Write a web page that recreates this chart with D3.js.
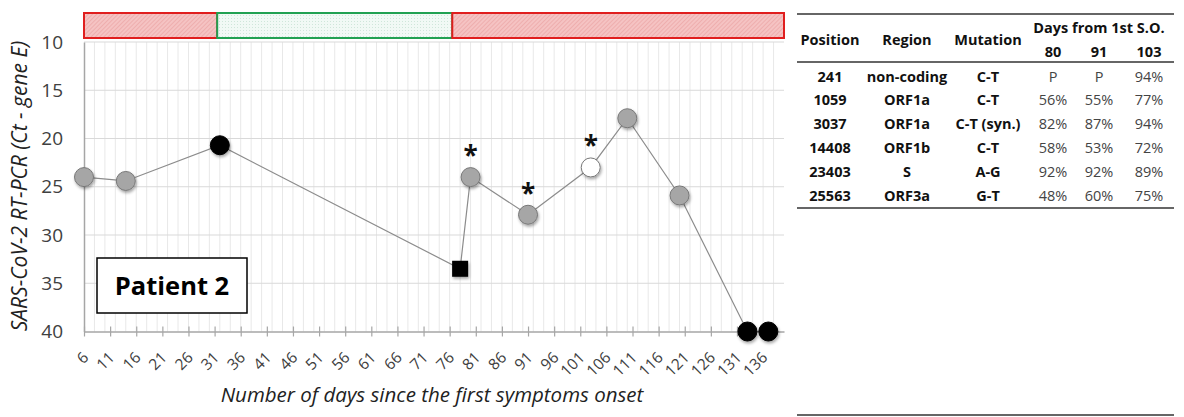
<!DOCTYPE html>
<html>
<head>
<meta charset="utf-8">
<script src="https://cdn.jsdelivr.net/npm/d3@7"></script>
<style>
  html, body { margin: 0; padding: 0; background: #fff; }
  svg { display: block; }
  text { font-family: "Open Sans", "Liberation Sans", sans-serif; }
</style>
</head>
<body>
<svg id="chart" width="1184" height="417"></svg>
<script>
// ---------- data ----------
const days   = [6, 14, 32, 78, 80, 91, 103, 110, 120, 133, 137];
const ctVals = [24, 24.4, 20.7, 33.5, 24, 27.9, 23.0, 17.9, 25.9, 40, 40];
const kinds  = ["gray", "gray", "black", "square", "gray", "gray", "white", "gray", "gray", "black", "black"];
const starred = [80, 91, 103];

const phaseStart  = [6, 31.5, 76.5];
const phaseEnd    = [31.5, 76.5, 140];
const phaseStatus = ["pos", "neg", "pos"];

const xTickValues = d3.range(6, 137, 5);
const yTickValues = [10, 15, 20, 25, 30, 35, 40];

const tableHeaders = ["Position", "Region", "Mutation"];
const dayHeaders   = ["80", "91", "103"];
const positions = ["241", "1059", "3037", "14408", "23403", "25563"];
const regions   = ["non-coding", "ORF1a", "ORF1a", "ORF1b", "S", "ORF3a"];
const mutations = ["C-T", "C-T", "C-T (syn.)", "C-T", "A-G", "G-T"];
const freq80  = ["P", "56%", "82%", "58%", "92%", "48%"];
const freq91  = ["P", "55%", "87%", "53%", "92%", "60%"];
const freq103 = ["94%", "77%", "94%", "72%", "89%", "75%"];

// ---------- setup ----------
const svg = d3.select("#chart");
const x = d3.scaleLinear().domain([6, 140]).range([84, 784]);
const y = d3.scaleLinear().domain([10, 40]).range([42, 331.5]);

const defs = svg.append("defs");
const pr = defs.append("pattern").attr("id", "hatchRed").attr("patternUnits", "userSpaceOnUse")
  .attr("width", 3).attr("height", 3).attr("patternTransform", "rotate(45)");
pr.append("rect").attr("width", 3).attr("height", 3).attr("fill", "#f5c3c3");
pr.append("line").attr("x1", 0).attr("y1", 0).attr("x2", 0).attr("y2", 3).attr("stroke", "#e79a9a").attr("stroke-width", 1);
const pg = defs.append("pattern").attr("id", "dotGreen").attr("patternUnits", "userSpaceOnUse")
  .attr("width", 3).attr("height", 3);
pg.append("rect").attr("width", 3).attr("height", 3).attr("fill", "#f1f9f5");
pg.append("rect").attr("width", 1).attr("height", 1).attr("fill", "#cfe6da");
const sh = defs.append("filter").attr("id", "shadow").attr("x", "-50%").attr("y", "-50%").attr("width", "200%").attr("height", "200%");
sh.append("feDropShadow").attr("dx", 1).attr("dy", 2).attr("stdDeviation", 1.5).attr("flood-color", "#000").attr("flood-opacity", 0.35);

// ---------- grid ----------
const grid = svg.append("g");
grid.selectAll("line.vg").data(d3.range(8, 140, 2)).join("line")
  .attr("x1", d => x(d)).attr("x2", d => x(d))
  .attr("y1", y(10)).attr("y2", y(40))
  .attr("stroke", "#e8e8e8").attr("stroke-width", 1);
grid.selectAll("line.hg").data(yTickValues.filter(v => v < 40)).join("line")
  .attr("x1", x(6)).attr("x2", x(140))
  .attr("y1", d => y(d)).attr("y2", d => y(d))
  .attr("stroke", "#d9d9d9").attr("stroke-width", 1);

// ---------- phase bar ----------
const phases = phaseStart.map((s, i) => ({ s, e: phaseEnd[i], st: phaseStatus[i] }));
svg.append("g").selectAll("rect").data(phases).join("rect")
  .attr("x", d => x(d.s)).attr("width", d => x(d.e) - x(d.s))
  .attr("y", 13).attr("height", 25)
  .attr("fill", d => d.st === "pos" ? "url(#hatchRed)" : "url(#dotGreen)")
  .attr("stroke", d => d.st === "pos" ? "#e01e1e" : "#21a152")
  .attr("stroke-width", 2);

// ---------- axes ----------
const xAxis = svg.append("g").attr("transform", `translate(0,${y(40)})`)
  .call(d3.axisBottom(x).tickValues(xTickValues).tickSize(0).tickFormat(d3.format("d")));
xAxis.select(".domain").attr("stroke", "#a6a6a6").attr("stroke-width", 1.5);
xAxis.selectAll(".tick").append("line").attr("y1", -5).attr("y2", 5).attr("stroke", "#a6a6a6").attr("stroke-width", 1.2);
xAxis.selectAll(".tick text")
  .attr("font-size", 15.5).attr("fill", "#404040")
  .attr("text-anchor", "end").attr("dy", null).attr("y", 0)
  .attr("transform", "translate(5,27) rotate(-45)");

const yAxis = svg.append("g").attr("transform", `translate(${x(6)},0)`)
  .call(d3.axisLeft(y).tickValues(yTickValues).tickSize(0).tickPadding(21));
yAxis.select(".domain").attr("stroke", "#a6a6a6").attr("stroke-width", 1.5);
yAxis.selectAll(".tick text").attr("font-size", 19).attr("fill", "#404040");

// axis titles
svg.append("text").attr("transform", "translate(27,186) rotate(-90)")
  .attr("text-anchor", "middle").attr("font-size", 21).attr("font-style", "italic").attr("fill", "#222")
  .text("SARS-CoV-2 RT-PCR (Ct - gene E)");
svg.append("text").attr("x", 432).attr("y", 402)
  .attr("text-anchor", "middle").attr("font-size", 20.5).attr("font-style", "italic").attr("fill", "#222")
  .text("Number of days since the first symptoms onset");

// ---------- series ----------
const pts = days.map((d, i) => ({ d, v: ctVals[i], k: kinds[i] }));
svg.append("path").datum(pts)
  .attr("d", d3.line().x(p => x(p.d)).y(p => y(p.v)))
  .attr("fill", "none").attr("stroke", "#8c8c8c").attr("stroke-width", 1.2);

const mk = svg.append("g").attr("filter", "url(#shadow)");
mk.selectAll("circle").data(pts.filter(p => p.k !== "square")).join("circle")
  .attr("cx", p => x(p.d)).attr("cy", p => y(p.v)).attr("r", 9.5)
  .attr("fill", p => p.k === "gray" ? "#a6a6a6" : p.k === "black" ? "#000" : "#fff")
  .attr("stroke", p => p.k === "black" ? "#000" : "#787878").attr("stroke-width", 1);
mk.selectAll("rect").data(pts.filter(p => p.k === "square")).join("rect")
  .attr("x", p => x(p.d) - 8).attr("y", p => y(p.v) - 8).attr("width", 16).attr("height", 16)
  .attr("fill", "#000");

svg.append("g").selectAll("text").data(pts.filter(p => starred.includes(p.d))).join("text")
  .attr("x", p => x(p.d)).attr("y", p => y(p.v) - 12)
  .attr("text-anchor", "middle").attr("font-size", 26).attr("font-weight", "bold").attr("fill", "#111")
  .text("*");

// ---------- patient label ----------
svg.append("rect").attr("x", 97).attr("y", 258).attr("width", 150).attr("height", 55)
  .attr("fill", "#fff").attr("stroke", "#000").attr("stroke-width", 1.5);
svg.append("text").attr("x", 172).attr("y", 295).attr("text-anchor", "middle")
  .attr("font-size", 25.5).attr("font-weight", "bold").attr("fill", "#000").text("Patient 2");

// ---------- table ----------
const tb = svg.append("g");
const colX = [830, 907, 988, 1053, 1099, 1149];
const rowY = [77, 100, 124, 148, 172, 196];
const rule = (yy, w) => tb.append("line").attr("x1", 797).attr("x2", 1174).attr("y1", yy).attr("y2", yy)
  .attr("stroke", "#333").attr("stroke-width", w);
rule(14, 1.5); rule(62, 1.5); rule(208, 1.5); rule(415, 1.5);

tb.append("text").attr("x", 1099).attr("y", 28).attr("dy", "0.35em").attr("text-anchor", "middle")
  .attr("font-size", 14.5).attr("font-weight", "bold").attr("fill", "#111").text("Days from 1st S.O.");
tb.selectAll("text.h").data(tableHeaders).join("text")
  .attr("x", (d, i) => colX[i]).attr("y", 40).attr("dy", "0.35em").attr("text-anchor", "middle")
  .attr("font-size", 14.5).attr("font-weight", "bold").attr("fill", "#111").text(d => d);
tb.selectAll("text.dh").data(dayHeaders).join("text")
  .attr("x", (d, i) => colX[3 + i]).attr("y", 52).attr("dy", "0.35em").attr("text-anchor", "middle")
  .attr("font-size", 14.5).attr("font-weight", "bold").attr("fill", "#111").text(d => d);

const cols = [positions, regions, mutations, freq80, freq91, freq103];
cols.forEach((col, ci) => {
  tb.append("g").selectAll("text").data(col).join("text")
    .attr("x", colX[ci]).attr("y", (d, ri) => rowY[ri]).attr("dy", "0.35em")
    .attr("text-anchor", "middle").attr("font-size", 14.5)
    .attr("font-weight", ci < 3 ? "bold" : "normal")
    .attr("fill", ci < 3 ? "#111" : "#444")
    .text(d => d);
});
</script>
</body>
</html>
